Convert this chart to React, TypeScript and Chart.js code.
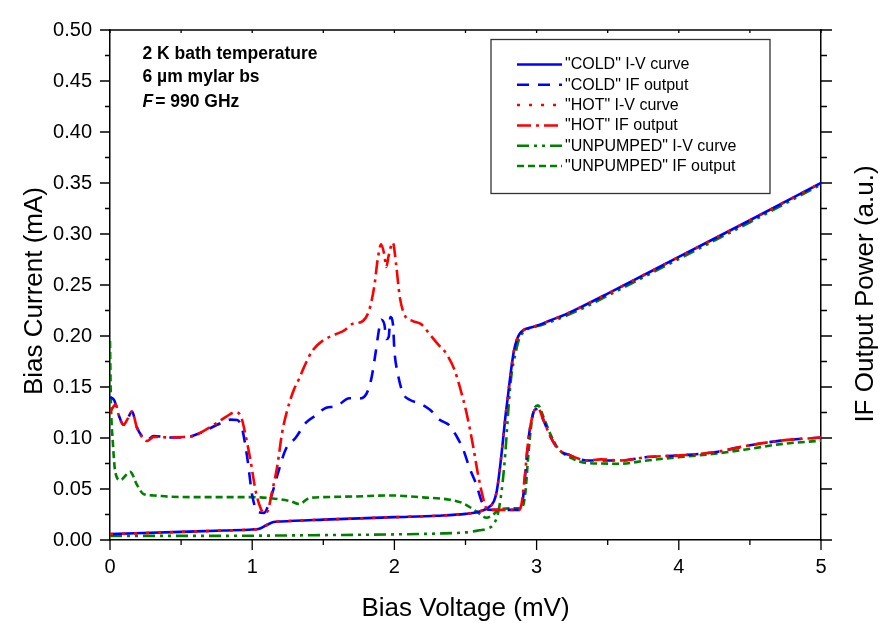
import React, { useEffect, useRef } from 'react';
import Chart from 'chart.js/auto';

const FONT = '"Liberation Sans", Arial, Helvetica, sans-serif';

// ---------- data (Bias Voltage mV, Bias Current mA) ----------
const coldIV_V = [0, 0.5, 0.8, 1.0, 1.05, 1.1, 1.15, 1.2, 1.5, 2.0, 2.3, 2.5, 2.6, 2.65, 2.7, 2.72, 2.74, 2.76, 2.78, 2.8, 2.82, 2.84, 2.86, 2.88, 2.91, 2.95, 3.0, 3.1, 3.2, 3.3, 3.5, 4.0, 4.5, 5.0];
const coldIV_I = [0.0058, 0.008, 0.0093, 0.0103, 0.011, 0.0145, 0.0176, 0.0182, 0.02, 0.0224, 0.0238, 0.0256, 0.028, 0.031, 0.038, 0.048, 0.068, 0.093, 0.12, 0.143, 0.166, 0.185, 0.196, 0.202, 0.206, 0.208, 0.21, 0.2155, 0.221, 0.2275, 0.2415, 0.2775, 0.3135, 0.35];

const coldIF_V = [0, 0.03, 0.06, 0.095, 0.125, 0.154, 0.19, 0.23, 0.26, 0.307, 0.425, 0.52, 0.636, 0.754, 0.85, 0.895, 0.93, 0.966, 1.0, 1.036, 1.083, 1.13, 1.177, 1.236, 1.307, 1.378, 1.45, 1.52, 1.589, 1.683, 1.742, 1.79, 1.836, 1.87, 1.89, 1.907, 1.93, 1.943, 1.96, 1.972, 1.99, 2.0, 2.024, 2.06, 2.107, 2.177, 2.248, 2.318, 2.39, 2.436, 2.483, 2.53, 2.577, 2.613, 2.645, 2.7, 2.8, 2.88, 2.9, 2.92, 2.94, 2.965, 2.99, 3.012, 3.047, 3.095, 3.153, 3.236, 3.354, 3.45, 3.6, 3.777, 4.012, 4.247, 4.483, 4.718, 5.0];
const coldIF_I = [0.14, 0.137, 0.123, 0.113, 0.119, 0.126, 0.11, 0.101, 0.098, 0.102, 0.1005, 0.1005, 0.105, 0.113, 0.118, 0.1176, 0.1086, 0.08, 0.044, 0.028, 0.0266, 0.041, 0.0636, 0.089, 0.1005, 0.115, 0.1225, 0.1297, 0.131, 0.139, 0.1386, 0.1407, 0.157, 0.1857, 0.205, 0.216, 0.211, 0.197, 0.199, 0.2185, 0.2114, 0.1857, 0.163, 0.144, 0.1375, 0.134, 0.128, 0.118, 0.112, 0.102, 0.089, 0.07, 0.054, 0.038, 0.03, 0.0295, 0.0295, 0.0295, 0.036, 0.064, 0.0957, 0.118, 0.128, 0.1285, 0.118, 0.102, 0.089, 0.083, 0.078, 0.078, 0.078, 0.0813, 0.083, 0.086, 0.0925, 0.0974, 0.1005];

const hotIV_V = [0, 0.5, 0.8, 1.0, 1.05, 1.1, 1.15, 1.2, 1.5, 2.0, 2.3, 2.5, 2.6, 2.65, 2.7, 2.72, 2.74, 2.76, 2.78, 2.8, 2.82, 2.84, 2.86, 2.88, 2.91, 2.95, 3.0, 3.1, 3.2, 3.3, 3.5, 4.0, 4.5, 5.0];
const hotIV_I = [0.0058, 0.008, 0.0093, 0.0103, 0.011, 0.0145, 0.0176, 0.0182, 0.02, 0.0224, 0.0238, 0.0256, 0.028, 0.031, 0.038, 0.048, 0.068, 0.093, 0.12, 0.143, 0.166, 0.185, 0.196, 0.202, 0.206, 0.208, 0.21, 0.2155, 0.221, 0.2275, 0.2415, 0.2775, 0.3135, 0.35];

const hotIF_V = [0, 0.02, 0.04, 0.06, 0.095, 0.125, 0.154, 0.19, 0.23, 0.26, 0.307, 0.425, 0.52, 0.59, 0.66, 0.754, 0.824, 0.88, 0.92, 0.95, 0.99, 1.025, 1.06, 1.083, 1.107, 1.14, 1.177, 1.21, 1.248, 1.295, 1.33, 1.366, 1.424, 1.495, 1.589, 1.648, 1.707, 1.777, 1.824, 1.86, 1.883, 1.907, 1.93, 1.943, 1.96, 1.989, 2.013, 2.036, 2.07, 2.13, 2.19, 2.248, 2.306, 2.366, 2.424, 2.46, 2.507, 2.553, 2.589, 2.624, 2.648, 2.7, 2.8, 2.88, 2.895, 2.918, 2.94, 2.965, 2.99, 3.012, 3.047, 3.095, 3.153, 3.236, 3.354, 3.45, 3.6, 3.777, 4.012, 4.247, 4.483, 4.718, 5.0];
const hotIF_I = [0.125, 0.13, 0.133, 0.123, 0.113, 0.119, 0.126, 0.11, 0.1, 0.097, 0.101, 0.1005, 0.101, 0.102, 0.107, 0.115, 0.1215, 0.1253, 0.1215, 0.105, 0.0765, 0.0475, 0.031, 0.0266, 0.028, 0.0475, 0.073, 0.105, 0.128, 0.148, 0.158, 0.17, 0.1857, 0.1953, 0.2018, 0.2056, 0.212, 0.2146, 0.226, 0.25, 0.2757, 0.29, 0.279, 0.2676, 0.279, 0.2917, 0.269, 0.24, 0.221, 0.2146, 0.2114, 0.2018, 0.192, 0.1825, 0.1664, 0.15, 0.1247, 0.0925, 0.0636, 0.041, 0.031, 0.0295, 0.0295, 0.0295, 0.036, 0.064, 0.0957, 0.118, 0.128, 0.1285, 0.118, 0.102, 0.089, 0.083, 0.078, 0.079, 0.078, 0.0813, 0.083, 0.086, 0.0925, 0.0974, 0.1005];

const unpIV_V = [0, 0.5, 1.0, 1.5, 2.0, 2.3, 2.5, 2.6, 2.65, 2.7, 2.73, 2.76, 2.78, 2.8, 2.82, 2.85, 2.88, 2.92, 2.96, 3.0, 3.1, 3.3, 3.5, 4.0, 4.5, 5.0];
const unpIV_I = [0.004, 0.004, 0.0042, 0.0048, 0.0055, 0.0063, 0.0075, 0.0095, 0.011, 0.016, 0.027, 0.055, 0.085, 0.125, 0.158, 0.182, 0.198, 0.205, 0.2085, 0.2095, 0.214, 0.2255, 0.2395, 0.2755, 0.3115, 0.3485];

const unpIF_V = [0, 0.006, 0.02, 0.037, 0.072, 0.142, 0.19, 0.236, 0.307, 0.425, 0.7, 0.99, 1.13, 1.27, 1.33, 1.4, 1.495, 1.73, 1.965, 2.2, 2.39, 2.483, 2.577, 2.648, 2.695, 2.74, 2.81, 2.895, 2.92, 2.94, 2.96, 2.98, 3.01, 3.05, 3.1, 3.15, 3.25, 3.35, 3.59, 3.777, 4.012, 4.247, 4.483, 4.718, 5.0];
const unpIF_I = [0.195, 0.1375, 0.0957, 0.0668, 0.0588, 0.0668, 0.054, 0.045, 0.0437, 0.0424, 0.042, 0.042, 0.041, 0.038, 0.0353, 0.041, 0.042, 0.0427, 0.0437, 0.0418, 0.0395, 0.036, 0.028, 0.0218, 0.025, 0.03, 0.031, 0.0314, 0.045, 0.08, 0.11, 0.127, 0.132, 0.12, 0.103, 0.09, 0.08, 0.0755, 0.0748, 0.078, 0.0813, 0.0845, 0.089, 0.094, 0.0974];

const seriesLabels = ['"COLD" I-V curve', '"COLD" IF output', '"HOT" I-V curve', '"HOT" IF output', '"UNPUMPED" I-V curve', '"UNPUMPED" IF output'];
const annotationLines = ['2 K bath temperature', '6 \u00B5m mylar bs', '= 990 GHz'];
const xTitle = 'Bias Voltage (mV)';
const yTitle = 'Bias Current (mA)';
const y2Title = 'IF Output Power (a.u.)';

// ---------- styles ----------
const BLUE = '#0000ff';
const RED = '#ff0000';
const GREEN = '#008000';
const styles = [
  { color: BLUE, dash: [] as number[], order: 2 },
  { color: BLUE, dash: [12, 9], order: 3 },
  { color: RED, dash: [3, 9], order: 0 },
  { color: RED, dash: [14, 5, 3, 5], order: 1 },
  { color: GREEN, dash: [12, 5, 3, 5, 3, 5], order: 4 },
  { color: GREEN, dash: [7, 4], order: 5 },
];

const seriesData = [
  [coldIV_V, coldIV_I],
  [coldIF_V, coldIF_I],
  [hotIV_V, hotIV_I],
  [hotIF_V, hotIF_I],
  [unpIV_V, unpIV_I],
  [unpIF_V, unpIF_I],
];

const toPoints = (v: number[], c: number[]) => v.map((x, k) => ({ x, y: c[k] }));

const overlayPlugin = {
  id: 'overlay',
  afterDraw(chart: any) {
    const ctx: CanvasRenderingContext2D = chart.ctx;
    const { left, right, top, bottom } = chart.chartArea;
    const xs = chart.scales.x;
    const ys = chart.scales.y;
    ctx.save();
    ctx.strokeStyle = '#000';
    ctx.lineWidth = 1.5;
    ctx.setLineDash([]);
    // top frame line
    ctx.beginPath();
    ctx.moveTo(left, top);
    ctx.lineTo(right + 0.75, top);
    ctx.stroke();

    ctx.lineWidth = 1.3;
    // y ticks (left & right)
    for (let k = 0; k <= 20; k++) {
      const v = k * 0.025;
      const py = ys.getPixelForValue(v);
      const major = k % 2 === 0;
      ctx.beginPath();
      ctx.moveTo(left, py);
      ctx.lineTo(left - (major ? 10 : 5), py);
      ctx.moveTo(right, py);
      ctx.lineTo(right + (major ? 11 : 6), py);
      ctx.stroke();
    }
    // x ticks (bottom & top)
    for (let k = 0; k <= 10; k++) {
      const v = k * 0.5;
      const px = xs.getPixelForValue(v);
      const major = k % 2 === 0;
      ctx.beginPath();
      ctx.moveTo(px, bottom);
      ctx.lineTo(px, bottom + (major ? 10 : 5));
      ctx.moveTo(px, top);
      ctx.lineTo(px, top + 3);
      ctx.stroke();
    }

    // axis titles
    ctx.fillStyle = '#000';
    ctx.font = `26px ${FONT}`;
    ctx.textAlign = 'center';
    ctx.textBaseline = 'alphabetic';
    ctx.fillText(xTitle, (left + right) / 2, 616);
    ctx.save();
    ctx.translate(41.5, 291);
    ctx.rotate(-Math.PI / 2);
    ctx.fillText(yTitle, 0, 0);
    ctx.restore();
    ctx.save();
    ctx.translate(873, 294);
    ctx.rotate(-Math.PI / 2);
    ctx.fillText(y2Title, 0, 0);
    ctx.restore();

    // annotation
    ctx.textAlign = 'left';
    ctx.font = `bold 17.5px ${FONT}`;
    ctx.fillText(annotationLines[0], 142.5, 58.5);
    ctx.fillText(annotationLines[1], 142.5, 82);
    ctx.font = `italic bold 17.5px ${FONT}`;
    ctx.fillText('F', 142.5, 107);
    const fw = ctx.measureText('F').width;
    ctx.font = `bold 17.5px ${FONT}`;
    ctx.fillText(annotationLines[2], 142.5 + fw + 2, 107);

    // legend
    ctx.fillStyle = '#fff';
    ctx.fillRect(491, 39.5, 279, 154);
    ctx.strokeStyle = '#333';
    ctx.lineWidth = 1.3;
    ctx.strokeRect(491, 39.5, 279, 154);
    ctx.font = `16px ${FONT}`;
    ctx.textBaseline = 'middle';
    for (let k = 0; k < seriesLabels.length; k++) {
      const cy = 64.5 + k * 20.3;
      const st = styles[k];
      ctx.strokeStyle = st.color;
      ctx.lineWidth = 2.5;
      ctx.setLineDash(st.dash);
      ctx.beginPath();
      ctx.moveTo(517, cy);
      ctx.lineTo(562, cy);
      ctx.stroke();
      ctx.setLineDash([]);
      ctx.fillStyle = '#000';
      ctx.fillText(seriesLabels[k], 565, cy + 0.5);
    }
    ctx.restore();
  },
};

export default function App() {
  const ref = useRef<HTMLCanvasElement | null>(null);
  useEffect(() => {
    if (!ref.current) return;
    const datasets = seriesData.map(([v, c], k) => ({
      label: seriesLabels[k],
      data: toPoints(v, c),
      borderColor: styles[k].color,
      backgroundColor: styles[k].color,
      borderDash: styles[k].dash,
      borderWidth: 2.6,
      pointRadius: 0,
      fill: false,
      cubicInterpolationMode: 'monotone' as const,
      order: styles[k].order,
    }));
    const chart = new Chart(ref.current, {
      type: 'line',
      data: { datasets },
      options: {
        animation: false,
        responsive: false,
        devicePixelRatio: 1,
        layout: { padding: { top: 19.5, left: 0, right: 0, bottom: 0 } },
        plugins: { legend: { display: false }, tooltip: { enabled: false } },
        events: [],
        scales: {
          x: {
            type: 'linear',
            position: 'bottom',
            min: 0,
            max: 5,
            afterFit: (s: any) => { s.height = 83; },
            grid: { display: false, drawTicks: false },
            border: { display: true, color: '#000', width: 1.5 },
            ticks: {
              stepSize: 1,
              padding: 15,
              color: '#000',
              maxRotation: 0,
              autoSkip: false,
              font: { family: FONT, size: 20 },
              callback: (v: any) => String(v),
            },
          },
          y: {
            type: 'linear',
            position: 'left',
            min: 0,
            max: 0.5,
            afterFit: (s: any) => { s.width = 110; },
            grid: { display: false, drawTicks: false },
            border: { display: true, color: '#000', width: 1.5 },
            ticks: {
              stepSize: 0.05,
              padding: 18,
              color: '#000',
              font: { family: FONT, size: 20 },
              callback: (v: any) => Number(v).toFixed(2),
            },
          },
          y2: {
            type: 'linear',
            position: 'right',
            min: 0,
            max: 0.5,
            afterFit: (s: any) => { s.width = 60; },
            grid: { display: false, drawTicks: false },
            border: { display: true, color: '#000', width: 1.5 },
            ticks: { display: false },
          },
        },
      },
      plugins: [overlayPlugin],
    });
    return () => chart.destroy();
  }, []);
  return (
    <div style={{ position: 'absolute', left: 0, top: 0, width: 881, height: 623, background: '#fff' }}>
      <canvas ref={ref} width={881} height={623} style={{ display: 'block', width: 881, height: 623 }} />
    </div>
  );
}
